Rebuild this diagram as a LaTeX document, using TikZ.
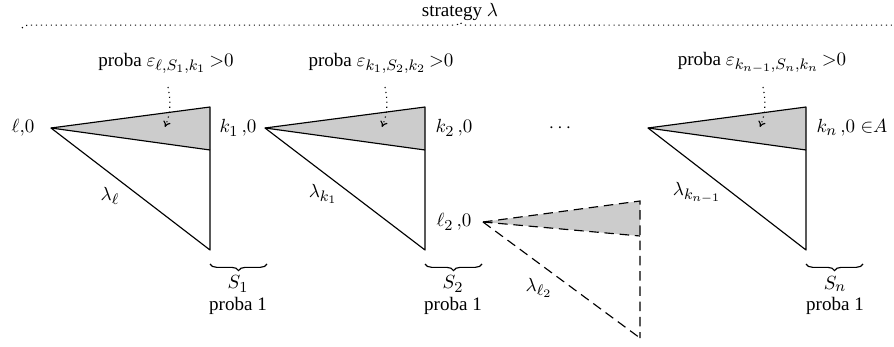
\documentclass[tikz,border=0pt]{standalone}
\usepackage{fontspec}
\setmainfont{Liberation Serif}
\DeclareMathSizes{10}{10}{8}{6}
\usetikzlibrary{decorations.pathreplacing,arrows.meta}
\begin{document}
\begin{tikzpicture}[x=0.525pt,y=-0.525pt, line width=0.6pt,
  lab/.style={inner sep=0pt, anchor=center},
  greyfill/.style={fill=black!20},
  dashline/.style={dash pattern=on 5pt off 3pt},
  topbrace/.style={dotted, decorate, decoration={brace, amplitude=3pt}},
  botbrace/.style={decorate, decoration={brace, amplitude=3.5pt, mirror}},
  hint/.style={dotted, -{To[length=3pt,width=4pt]}}]
\useasboundingbox (0,0) rectangle (894,347);

% top brace
\node[lab] (strat) at (460,12) {strategy $\lambda$};
\coordinate (bl) at (22,28);
\coordinate (br) at (898,28);
\draw[topbrace] (bl) -- (br);

% triangle 1
\coordinate (a1) at (51,128); \coordinate (t1) at (210,107);
\coordinate (g1) at (210,150); \coordinate (b1) at (210,250);
\fill[greyfill] (a1) -- (t1) -- (g1) -- cycle;
\draw[line join=round] (a1) -- (t1) -- (b1) -- cycle;
\draw (a1) -- (g1);

% triangle 2
\coordinate (a2) at (265,128); \coordinate (t2) at (425,107);
\coordinate (g2) at (425,150); \coordinate (b2) at (425,250);
\fill[greyfill] (a2) -- (t2) -- (g2) -- cycle;
\draw[line join=round] (a2) -- (t2) -- (b2) -- cycle;
\draw (a2) -- (g2);

% dashed triangle
\coordinate (a3) at (483,222); \coordinate (t3) at (640,201);
\coordinate (g3) at (640,236); \coordinate (b3) at (640,338);
\fill[greyfill] (a3) -- (t3) -- (g3) -- cycle;
\draw[dashline] (a3) -- (t3) -- (b3);
\draw[dashline] (a3) -- (b3);
\draw[dashline] (a3) -- (g3);

% triangle n
\coordinate (an) at (648,128); \coordinate (tn) at (806,107);
\coordinate (gn) at (806,150); \coordinate (bn) at (806,250);
\fill[greyfill] (an) -- (tn) -- (gn) -- cycle;
\draw[line join=round] (an) -- (tn) -- (bn) -- cycle;
\draw (an) -- (gn);

% state labels
\node[lab] (l0) at (23,128) {$\ell{,}0$};
\node[lab] (k10) at (238,128) {$k_1\,{,}0$};
\node[lab] (k20) at (454,128) {$k_2\,{,}0$};
\node[lab] (l20) at (454,222) {$\ell_2\,{,}0$};
\node[lab] (kn0) at (852,128) {$k_n\,{,}0\;{\in}A$};
\node[lab] (dots) at (560,128) {$\cdots$};

% lambda labels
\node[lab] (ll) at (110,196) {$\lambda_\ell$};
\node[lab] (lk1) at (323,194) {$\lambda_{k_1}$};
\node[lab] (ll2) at (539,288) {$\lambda_{\ell_2}$};
\node[lab] (lkn) at (697,193) {$\lambda_{k_{n-1}}$};

% bottom braces
\coordinate (c1l) at (210,264); \coordinate (c1r) at (267,264);
\draw[botbrace] (c1l) -- (c1r);
\node[lab] (s1) at (238,284) {$S_1$};
\node[lab] (p11) at (238,306) {proba 1};
\coordinate (c2l) at (425,264); \coordinate (c2r) at (482,264);
\draw[botbrace] (c2l) -- (c2r);
\node[lab] (s2) at (453,284) {$S_2$};
\node[lab] (p12) at (453,306) {proba 1};
\coordinate (cnl) at (806,264); \coordinate (cnr) at (863,264);
\draw[botbrace] (cnl) -- (cnr);
\node[lab] (sn) at (835,284) {$S_n$};
\node[lab] (p1n) at (835,306) {proba 1};

% proba epsilon labels
\node[lab] (e1) at (166,63) {proba $\varepsilon_{\ell,S_1,k_1}\,{>}0$};
\node[lab] (e2) at (381,63) {proba $\varepsilon_{k_1,S_2,k_2}\,{>}0$};
\node[lab] (en) at (762,63) {proba $\varepsilon_{k_{n-1},S_n,k_n}\,{>}0$};

\coordinate (h1s) at (168,87); \coordinate (h1e) at (165,127);
\draw[hint] (h1s) .. controls +(4,20) and +(4,-10) .. (h1e);
\coordinate (h2s) at (385,87); \coordinate (h2e) at (382,127);
\draw[hint] (h2s) .. controls +(4,20) and +(4,-10) .. (h2e);
\coordinate (hns) at (763,87); \coordinate (hne) at (760,127);
\draw[hint] (hns) .. controls +(4,20) and +(4,-10) .. (hne);
\end{tikzpicture}
\end{document}
